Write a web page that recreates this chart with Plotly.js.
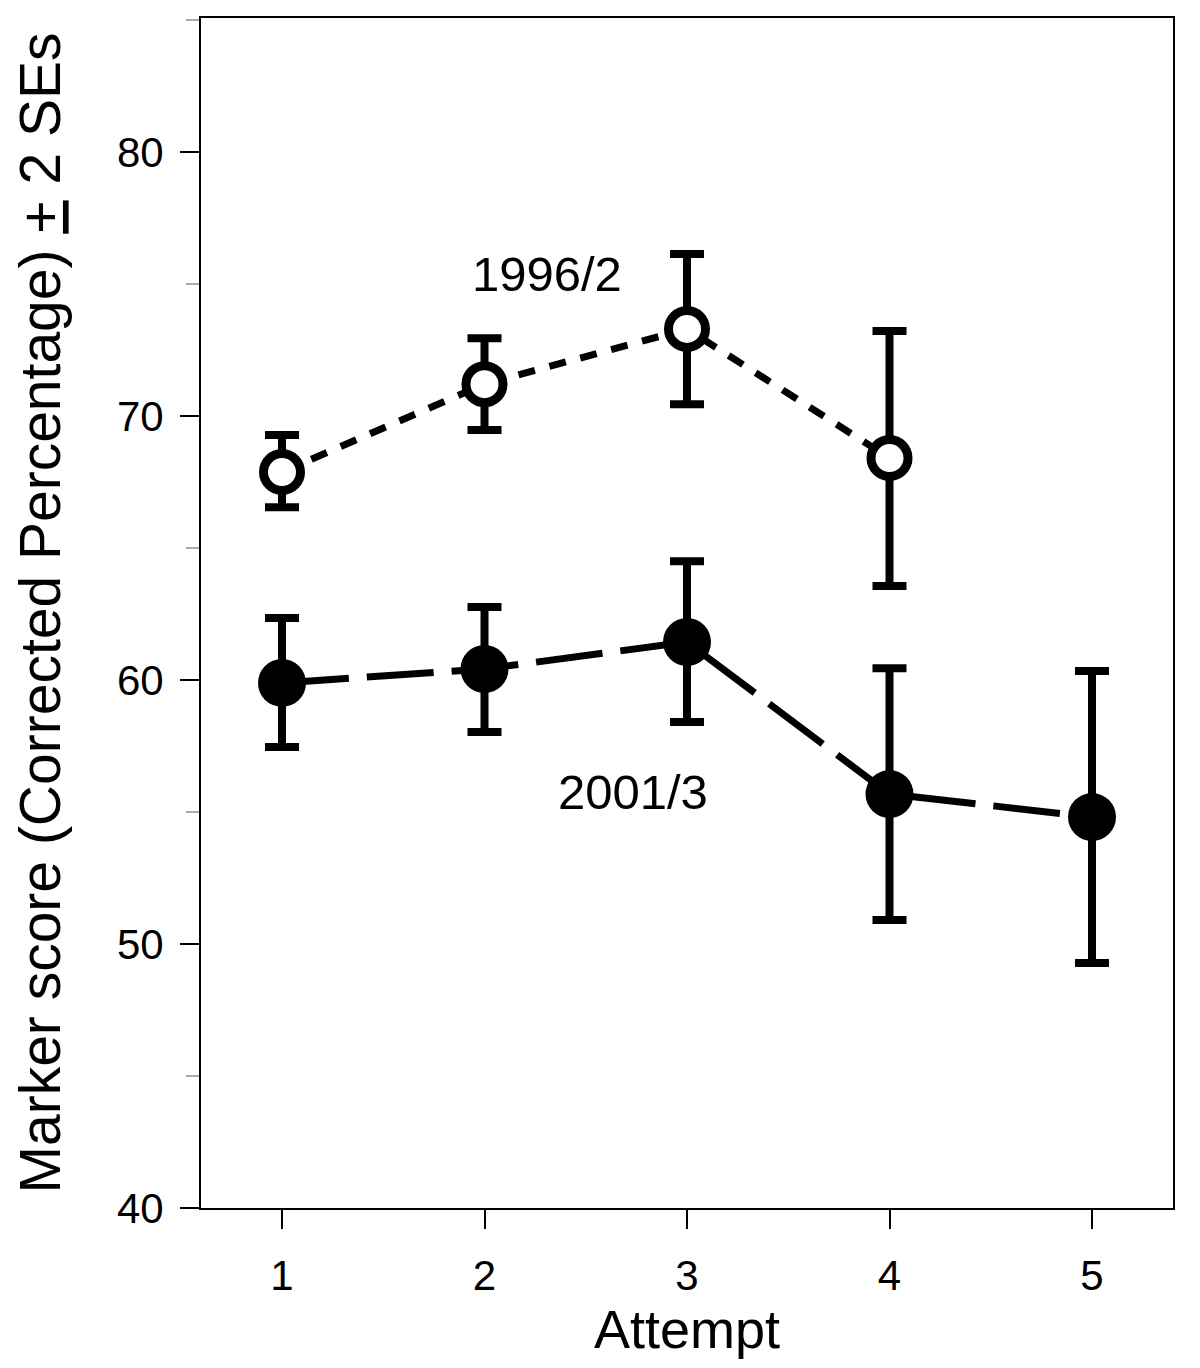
<!DOCTYPE html>
<html>
<head>
<meta charset="utf-8">
<script src="https://cdn.plot.ly/plotly-3.0.1.min.js"></script>
<style>html,body{margin:0;padding:0;background:#fff;}#chart{width:1200px;height:1368px;}</style>
</head>
<body>
<div id="chart"></div>
<script>
// Data
const attempts9602 = [1, 2, 3, 4];
const mean9602 = [67.88, 71.21, 73.30, 68.41];
const errUp9602 = [1.40, 1.74, 2.84, 4.81];
const errDown9602 = [1.33, 1.74, 2.85, 4.85];

const attempts0103 = [1, 2, 3, 4, 5];
const mean0103 = [59.89, 60.42, 61.44, 55.68, 54.81];
const errUp0103 = [2.46, 2.35, 3.06, 4.77, 5.53];
const errDown0103 = [2.43, 2.39, 3.03, 4.77, 5.53];

const xTicks = [1, 2, 3, 4, 5];
const yTicks = [40, 50, 60, 70, 80];
const seriesLabels = ['1996/2', '2001/3'];
const labelPos = [[2.307, 75.4], [2.731, 55.76]];

const FONT = 'Liberation Sans, Arial, sans-serif';

const traces = [
  {
    x: attempts0103, y: mean0103, type: 'scatter', mode: 'lines+markers', name: seriesLabels[1],
    line: {color: '#000', width: 7, dash: '67px,18px'},
    marker: {color: '#000', size: 48, symbol: 'circle', line: {width: 0}},
    error_y: {type: 'data', symmetric: false, array: errUp0103, arrayminus: errDown0103,
              color: '#000', thickness: 8, width: 17}
  },
  {
    x: attempts9602, y: mean9602, type: 'scatter', mode: 'lines+markers', name: seriesLabels[0],
    line: {color: '#000', width: 7, dash: '17px,15px'},
    marker: {color: '#fff', size: 37, symbol: 'circle', line: {color: '#000', width: 9}},
    error_y: {type: 'data', symmetric: false, array: errUp9602, arrayminus: errDown9602,
              color: '#000', thickness: 8, width: 17}
  }
];

const layout = {
  width: 1200, height: 1368,
  margin: {l: 201, r: 27, t: 18, b: 160},
  paper_bgcolor: '#fff', plot_bgcolor: '#fff',
  showlegend: false,
  font: {family: FONT, color: '#000'},
  xaxis: {
    range: [0.6, 5.4], tickvals: xTicks, ticktext: xTicks.map(String),
    showgrid: false, zeroline: false, showline: true, linecolor: '#000', linewidth: 2, mirror: true,
    ticks: 'outside', ticklen: 19, tickwidth: 2, tickcolor: '#000',
    tickfont: {family: FONT, size: 42, color: '#000'}, ticklabelstandoff: 11,
    title: {text: 'Attempt', font: {family: FONT, size: 54, color: '#000'}, standoff: 11}
  },
  yaxis: {
    range: [40, 85.08], tickvals: yTicks, ticktext: yTicks.map(String),
    showgrid: false, zeroline: false, showline: true, linecolor: '#000', linewidth: 2, mirror: true,
    ticks: 'outside', ticklen: 19, tickwidth: 2, tickcolor: '#000',
    minor: {dtick: 5, tick0: 45, ticks: 'outside', ticklen: 13, tickwidth: 2, tickcolor: '#aaa', showgrid: false},
    tickfont: {family: FONT, size: 42, color: '#000'}, ticklabelstandoff: 8,
    title: {text: 'Marker score (Corrected Percentage) <u>+</u> 2 SEs', font: {family: FONT, size: 57, color: '#000'}, standoff: 38}
  },
  annotations: seriesLabels.map((t, i) => ({
    x: labelPos[i][0], y: labelPos[i][1], xref: 'x', yref: 'y', text: t, showarrow: false,
    font: {family: FONT, size: 49, color: '#000'}, xanchor: 'center', yanchor: 'middle'
  }))
};

Plotly.newPlot('chart', traces, layout, {displayModeBar: false, staticPlot: true});
</script>
</body>
</html>
